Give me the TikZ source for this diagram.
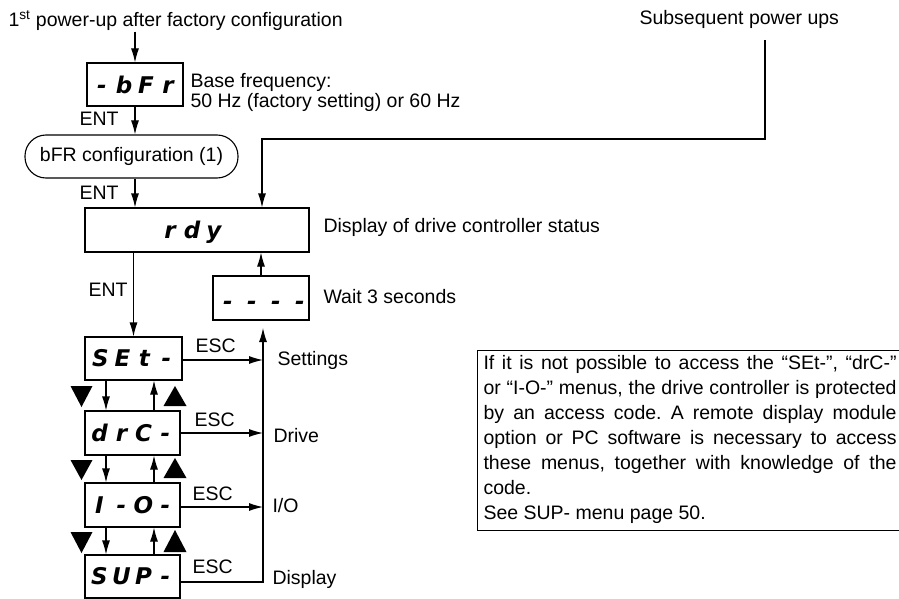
\documentclass[tikz,border=0pt]{standalone}
\usepackage{fontspec}
\setmainfont{Liberation Sans}
\newfontfamily\segfont{DejaVu Sans}
\usetikzlibrary{arrows.meta}
\newcommand\mysz{\fontsize{19.5}{20}\selectfont}
\newcommand\segsz{\segfont\bfseries\itshape\fontsize{23}{23}\selectfont}
\newcommand\sg[1]{\makebox[22pt][c]{#1}}
\newcommand\dsh{\makebox[24pt][c]{-}}
\frenchspacing
\begin{document}
\begin{tikzpicture}[x=1pt,y=-1pt,line width=1.1pt,
  txt/.style={inner sep=0pt,font=\mysz,anchor=base west},
  disp/.style={draw,inner sep=0pt,font=\segsz},
  segt/.style={inner sep=0pt,font=\segsz,anchor=base},
  arr/.style={-{Latex[length=14pt,width=8pt]}},
  keytri/.style={fill=black,draw=none}]
\useasboundingbox (0,0) rectangle (899,599);

% texts
\node[txt] (title) at (8,27) {1\textsuperscript{st} power-up after factory configuration};
\node[txt] (subs) at (639,25) {Subsequent power ups};
\node[txt] (bf1) at (190,88) {Base frequency:};
\node[txt] (bf2) at (190,108) {50 Hz (factory setting) or 60 Hz};
\node[txt] (ent1) at (79,126) {ENT};
\node[txt] (ent2) at (79,199) {ENT};
\node[txt] (stat) at (323,232) {Display of drive controller status};
\node[txt] (w3) at (323,303) {Wait 3 seconds};
\node[txt] (ent3) at (88,296) {ENT};
\node[txt] (esc1) at (195,352) {ESC};
\node[txt] (esc2) at (194,426) {ESC};
\node[txt] (esc3) at (192,500) {ESC};
\node[txt] (esc4) at (192,573) {ESC};
\node[txt] (lset) at (277,365) {Settings};
\node[txt] (ldrv) at (273,442) {Drive};
\node[txt] (lio) at (272,512) {I/O};
\node[txt] (ldsp) at (272,584) {Display};

% display boxes
\node[disp,minimum width=96pt,minimum height=43pt] (bfr) at (135,84.5) {\sg{-}\sg{b}\sg{F}\sg{r}};
\node[draw,rounded corners=21pt,minimum width=213pt,minimum height=43pt,inner sep=0pt,font=\mysz] (cfg) at (131.5,156.5) {bFR configuration (1)};
\node[draw,minimum width=224pt,minimum height=44pt,inner sep=0pt] (rdy) at (197,230) {};
\node[segt] (rdytxt) at (192,238) {\sg{r}\sg{d}\sg{y}};
\node[draw,minimum width=96pt,minimum height=44pt,inner sep=0pt] (wait) at (261,298) {};
\node[segt] (waittxt) at (264,309) {\dsh\dsh\dsh\dsh};
\node[disp,minimum width=97pt,minimum height=43pt] (set) at (133.5,358.5) {\sg{S}\sg{E}\sg{t}\sg{-}};
\node[disp,minimum width=95pt,minimum height=44pt] (drc) at (132.5,433) {\sg{d}\sg{r}\sg{C}\sg{-}};
\node[disp,minimum width=95pt,minimum height=44pt] (io) at (132.5,505) {\sg{I}\sg{-}\sg{O}\sg{-}};
\node[disp,minimum width=95pt,minimum height=43pt] (sup) at (132.5,576.5) {\sg{S}\sg{U}\sg{P}\sg{-}};

% note box
\node[draw,inner sep=0pt,anchor=north west,minimum width=424pt,minimum height=180pt] (note) at (477,350) {};
\node[anchor=base west,inner sep=0pt,font=\mysz] (notetxt) at (483,369) {\parbox[t]{413pt}{\fontsize{19.5}{25}\selectfont
\makebox[413pt][s]{If it is not possible to access the “SEt-”, “drC-”}\\
\makebox[413pt][s]{or “I-O-” menus, the drive controller is protected}\\
\makebox[413pt][s]{by an access code. A remote display module}\\
\makebox[413pt][s]{option or PC software is necessary to access}\\
\makebox[413pt][s]{these menus, together with knowledge of the}\\
code.\\
See SUP- menu page 50.}};

% key triangles
\fill[keytri] (70.5,386) -- (92.5,386) -- (81.5,407) -- cycle;
\fill[keytri] (163.5,406) -- (186.5,406) -- (175,386) -- cycle;
\fill[keytri] (70.5,460) -- (92.5,460) -- (81.5,480) -- cycle;
\fill[keytri] (163.5,478) -- (186.5,478) -- (175,458) -- cycle;
\fill[keytri] (70.5,532) -- (92.5,532) -- (81.5,553) -- cycle;
\fill[keytri] (163.5,552) -- (186.5,552) -- (175,530) -- cycle;

% connectors
\draw[arr] (bfr.north |- title.south) -- (bfr.north);
\draw[arr] (bfr.south) -- (bfr.south |- cfg.north);
\draw[arr] (bfr.south |- cfg.south) -- (bfr.south |- rdy.north);
\coordinate (sub0) at (765,40);
\coordinate (sub1) at (262,139);
\draw[arr] (sub0) |- (sub1) -- (sub1 |- rdy.north);
\draw[arr] (wait.north) -- (wait.north |- rdy.south);
\draw[arr] (set.north |- rdy.south) -- (set.north);

\coordinate (dn) at (106,0);
\coordinate (up) at (154,0);
\draw[arr] (set.south -| dn) -- (drc.north -| dn);
\draw[arr] (drc.north -| up) -- (set.south -| up);
\draw[arr] (drc.south -| dn) -- (io.north -| dn);
\draw[arr] (io.north -| up) -- (drc.south -| up);
\draw[arr] (io.south -| dn) -- (sup.north -| dn);
\draw[arr] (sup.north -| up) -- (io.south -| up);

\coordinate (e1) at (263,360);
\coordinate (e2) at (263,433);
\coordinate (e3) at (263,507);
\coordinate (e4) at (263,582);
\coordinate (e5) at (263,328);
\draw[arr] (set.east |- e1) -- (e1);
\draw[arr] (drc.east |- e2) -- (e2);
\draw[arr] (io.east |- e3) -- (e3);
\draw[arr] (sup.east |- e4) -- (e4) -- (e5);
\end{tikzpicture}
\end{document}
